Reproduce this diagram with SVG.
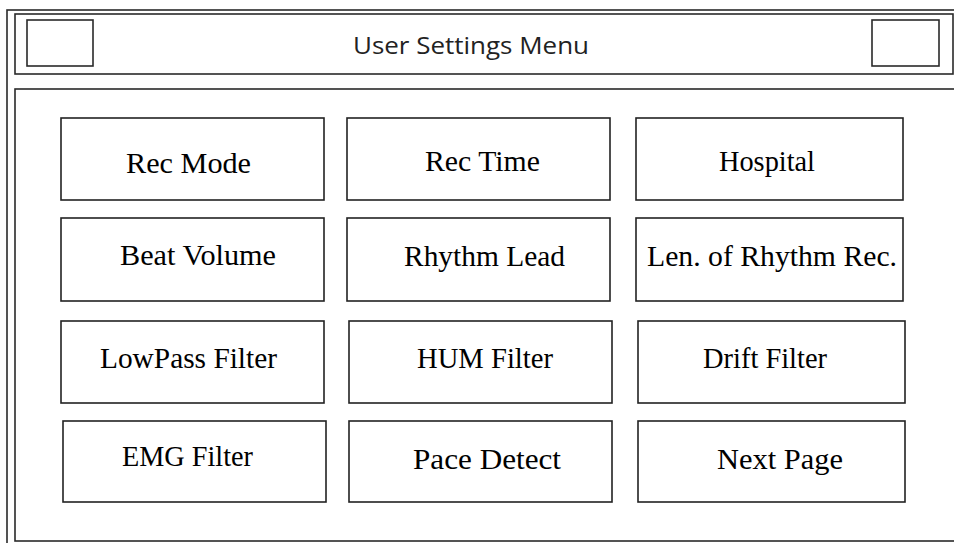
<svg xmlns="http://www.w3.org/2000/svg" width="954" height="543" viewBox="0 0 954 543">
<style>
  .frame{fill:none;stroke:#2a2a2a;stroke-width:1.6}
  .box{fill:#fff;stroke:#222;stroke-width:1.6}
  .lbl{font-family:"Liberation Serif","Times New Roman",serif;font-size:29px;fill:#000}
  .title{font-family:"Open Sans","Noto Sans",sans-serif;font-size:24px;fill:#222}
</style>
<rect width="954" height="543" fill="#fff"/>
<g id="window">
  <rect class="frame" x="7" y="10" width="970" height="560"/>
</g>
<g id="header">
  <rect class="frame" x="15" y="14" width="938" height="60"/>
  <rect class="frame" x="27" y="20" width="66" height="46"/>
  <rect class="frame" x="872" y="20" width="67" height="46"/>
  <text class="title" x="353" y="54" textLength="236" lengthAdjust="spacingAndGlyphs">User Settings Menu</text>
</g>
<g id="content">
  <rect class="frame" x="15" y="89" width="960" height="452"/>
</g>
<g id="connectors"></g>
<g id="rec-mode">
  <rect class="box" x="61" y="118" width="263" height="82"/>
  <text class="lbl" x="126" y="172.5" textLength="125" lengthAdjust="spacingAndGlyphs">Rec Mode</text>
</g>
<g id="rec-time">
  <rect class="box" x="347" y="118" width="263" height="82"/>
  <text class="lbl" x="425" y="170.5" textLength="115" lengthAdjust="spacingAndGlyphs">Rec Time</text>
</g>
<g id="hospital">
  <rect class="box" x="636" y="118" width="267" height="82"/>
  <text class="lbl" x="719" y="171" textLength="96" lengthAdjust="spacingAndGlyphs">Hospital</text>
</g>
<g id="beat-volume">
  <rect class="box" x="61" y="218" width="263" height="83"/>
  <text class="lbl" x="120" y="265" textLength="156" lengthAdjust="spacingAndGlyphs">Beat Volume</text>
</g>
<g id="rhythm-lead">
  <rect class="box" x="347" y="218" width="263" height="83"/>
  <text class="lbl" x="404" y="265.5" textLength="161" lengthAdjust="spacingAndGlyphs">Rhythm Lead</text>
</g>
<g id="len-rhythm-rec">
  <rect class="box" x="636" y="218" width="267" height="83"/>
  <text class="lbl" x="647" y="265.5" textLength="250" lengthAdjust="spacingAndGlyphs">Len. of Rhythm Rec.</text>
</g>
<g id="lowpass-filter">
  <rect class="box" x="61" y="321" width="263" height="82"/>
  <text class="lbl" x="100" y="367.5" textLength="177" lengthAdjust="spacingAndGlyphs">LowPass Filter</text>
</g>
<g id="hum-filter">
  <rect class="box" x="349" y="321" width="263" height="82"/>
  <text class="lbl" x="417" y="367.5" textLength="136" lengthAdjust="spacingAndGlyphs">HUM Filter</text>
</g>
<g id="drift-filter">
  <rect class="box" x="638" y="321" width="267" height="82"/>
  <text class="lbl" x="703" y="367.5" textLength="124" lengthAdjust="spacingAndGlyphs">Drift Filter</text>
</g>
<g id="emg-filter">
  <rect class="box" x="63" y="421" width="263" height="81"/>
  <text class="lbl" x="122" y="465.5" textLength="131" lengthAdjust="spacingAndGlyphs">EMG Filter</text>
</g>
<g id="pace-detect">
  <rect class="box" x="349" y="421" width="263" height="81"/>
  <text class="lbl" x="413" y="469" textLength="148" lengthAdjust="spacingAndGlyphs">Pace Detect</text>
</g>
<g id="next-page">
  <rect class="box" x="638" y="421" width="267" height="81"/>
  <text class="lbl" x="717" y="469" textLength="126" lengthAdjust="spacingAndGlyphs">Next Page</text>
</g>
</svg>
